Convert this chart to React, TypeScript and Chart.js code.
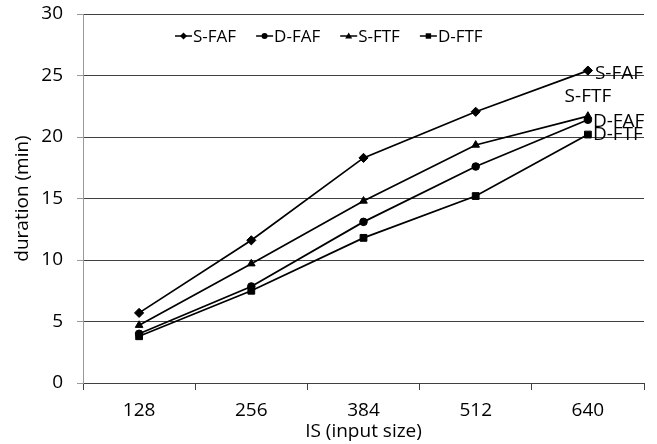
import React, { useEffect, useRef } from "react";
import { Chart, registerables } from "chart.js";

Chart.register(...registerables);

const categories = ["128", "256", "384", "512", "640"];
const seriesNames = ["S-FAF", "D-FAF", "S-FTF", "D-FTF"];
const sFAF = [5.7, 11.6, 18.3, 22.05, 25.4];
const dFAF = [4.0, 7.85, 13.1, 17.6, 21.4];
const sFTF = [4.7, 9.7, 14.8, 19.35, 21.7];
const dFTF = [3.8, 7.5, 11.8, 15.2, 20.2];
const yMin = 0;
const yMax = 30;
const yStep = 5;
const xTitle = "IS (input size)";
const yTitle = "duration (min)";

const FONT = "'Open Sans', 'Noto Sans', sans-serif";
const pointStyles = ["rectRot", "circle", "triangle", "rect"];
const pointRadii = [4.6, 3.8, 4.4, 4.8];
const legendRadii = [3.5, 3, 3.5, 3.4];
// end label placement: dx, dy, align
const endPlacement = [
  { dx: 7, dy: 3, align: "left" },
  { dx: 5, dy: 2, align: "left" },
  { dx: 0, dy: -19, align: "center" },
  { dx: 5, dy: 0, align: "left" },
];

const endLabels = {
  id: "endLabels",
  afterDatasetsDraw(chart: any) {
    const ctx = chart.ctx;
    ctx.save();
    ctx.font = `19px ${FONT}`;
    ctx.fillStyle = "#000";
    ctx.textBaseline = "middle";
    chart.data.datasets.forEach((ds: any, i: number) => {
      const meta = chart.getDatasetMeta(i);
      const pt = meta.data[meta.data.length - 1];
      const p = endPlacement[i];
      ctx.textAlign = p.align;
      ctx.fillText(ds.label, pt.x + p.dx, pt.y + p.dy);
    });
    ctx.restore();
  },
};

function drawMarker(ctx: CanvasRenderingContext2D, style: string, r: number, x: number, y: number) {
  ctx.fillStyle = "#000";
  ctx.beginPath();
  if (style === "circle") {
    ctx.arc(x, y, r, 0, Math.PI * 2);
  } else if (style === "rectRot") {
    ctx.moveTo(x, y - r);
    ctx.lineTo(x + r, y);
    ctx.lineTo(x, y + r);
    ctx.lineTo(x - r, y);
    ctx.closePath();
  } else if (style === "triangle") {
    ctx.moveTo(x, y - r);
    ctx.lineTo(x + r, y + r * 0.7);
    ctx.lineTo(x - r, y + r * 0.7);
    ctx.closePath();
  } else {
    const s = r * 0.8;
    ctx.rect(x - s, y - s, 2 * s, 2 * s);
  }
  ctx.fill();
}

const customLegend = {
  id: "customLegend",
  afterDraw(chart: any) {
    const ctx = chart.ctx;
    ctx.save();
    ctx.font = `17px ${FONT}`;
    ctx.textBaseline = "middle";
    ctx.textAlign = "left";
    let x = 175;
    const y = 36;
    chart.data.datasets.forEach((ds: any, i: number) => {
      ctx.strokeStyle = "#000";
      ctx.lineWidth = 1.5;
      ctx.beginPath();
      ctx.moveTo(x, y);
      ctx.lineTo(x + 17, y);
      ctx.stroke();
      drawMarker(ctx, pointStyles[i], legendRadii[i], x + 8.5, y);
      ctx.fillStyle = "#000";
      ctx.fillText(ds.label, x + 18, y + 1);
      const w = ctx.measureText(ds.label).width;
      x += 18 + w + 20;
    });
    ctx.restore();
  },
};

export default function App() {
  const ref = useRef<HTMLCanvasElement | null>(null);

  useEffect(() => {
    if (!ref.current) return;
    const values = [sFAF, dFAF, sFTF, dFTF];
    const chart = new Chart(ref.current, {
      type: "line",
      data: {
        labels: categories,
        datasets: seriesNames.map((name, i) => ({
          label: name,
          data: values[i],
          borderColor: "#000",
          backgroundColor: "#000",
          borderWidth: 1.75,
          pointStyle: pointStyles[i] as any,
          pointRadius: pointRadii[i],
          pointBackgroundColor: "#000",
          pointBorderColor: "#000",
          pointBorderWidth: 1,
          tension: 0,
        })),
      },
      options: {
        animation: false,
        responsive: true,
        maintainAspectRatio: false,
        layout: { padding: { top: 14, right: 13, left: 0, bottom: 0 } },
        plugins: {
          legend: { display: false },
          tooltip: { enabled: false },
        },
        scales: {
          x: {
            type: "category",
            offset: true,
            grid: {
              offset: true,
              drawOnChartArea: false,
              drawTicks: true,
              tickLength: 7,
              color: "#404040",
              tickColor: "#404040",
            },
            border: { color: "#404040", width: 1 },
            ticks: {
              color: "#000",
              font: { family: FONT, size: 19 },
              padding: 9,
              maxRotation: 0,
            },
            title: {
              display: true,
              text: xTitle,
              color: "#000",
              font: { family: FONT, size: 19 },
              padding: { top: 0, bottom: 1 },
            },
            afterFit: (scale: any) => {
              scale.height = 61;
              scale.paddingLeft = 0;
              scale.paddingRight = 0;
            },
          },
          y: {
            min: yMin,
            max: yMax,
            ticks: {
              stepSize: yStep,
              color: "#000",
              font: { family: FONT, size: 19 },
              padding: 14,
            },
            grid: {
              color: "#404040",
              tickColor: "#9a9a9a",
              tickLength: 6,
              lineWidth: 1,
            },
            border: { color: "#9a9a9a", width: 1 },
            title: {
              display: true,
              text: yTitle,
              color: "#000",
              font: { family: FONT, size: 19 },
              padding: { top: 11, bottom: 0 },
            },
            afterFit: (scale: any) => {
              scale.width = 83;
              scale.paddingTop = 0;
              scale.paddingBottom = 0;
            },
          },
        },
      },
      plugins: [endLabels, customLegend],
    });
    return () => chart.destroy();
  }, []);

  return (
    <div style={{ position: "fixed", left: 0, top: 0, width: 657, height: 444, background: "#fff" }}>
      <canvas ref={ref} style={{ display: "block" }} />
    </div>
  );
}
